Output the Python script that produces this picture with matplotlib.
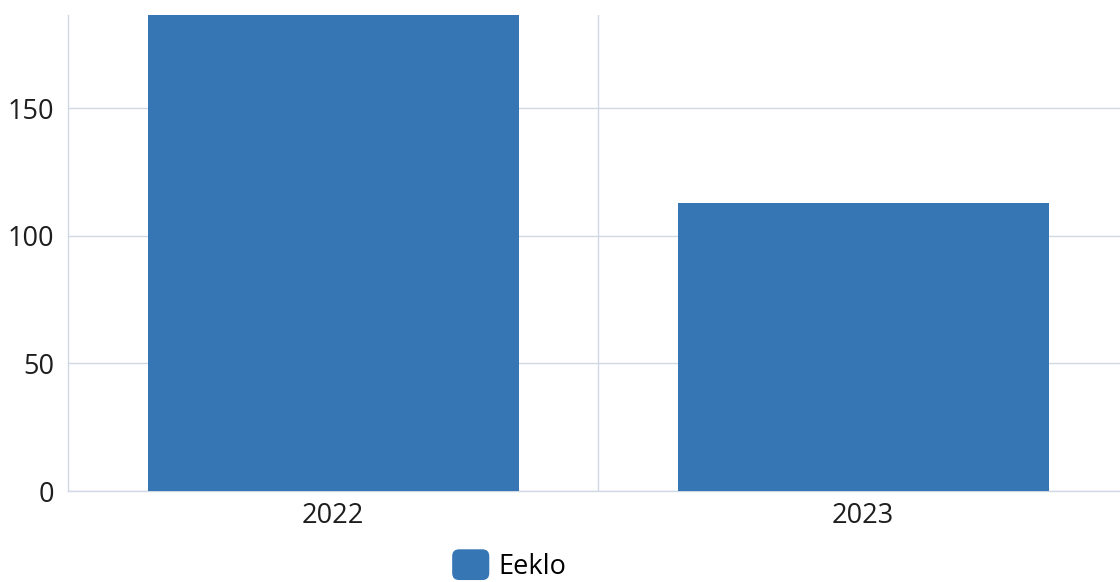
import matplotlib
matplotlib.use("Agg")
import matplotlib.pyplot as plt
from matplotlib.patches import FancyBboxPatch, Patch
from matplotlib.legend_handler import HandlerPatch

categories = ["2022", "2023"]
series_name = "Eeklo"
values = [190, 113]
yticks = [0, 50, 100, 150]

BAR = "#3776b4"
GRID = "#cfd8e3"

plt.rcParams['font.family'] = ['Open Sans', 'DejaVu Sans']

fig = plt.figure(figsize=(11.2, 5.82), dpi=100)
ax = fig.add_axes([68/1120, 1-491/582, 1060/1120, (491-15)/582])

x = list(range(len(categories)))
ax.bar(x, values, width=0.70, color=BAR, zorder=3, label=series_name)
ax.set_xlim(-0.5, len(categories) - 0.5)
ax.set_ylim(0, 186.5)
ax.set_yticks(yticks)
ax.set_xticks(x)
ax.set_xticklabels(categories)
ax.set_xticks([0.5], minor=True)
ax.grid(axis='y', which='major', color=GRID, linewidth=1, zorder=0)
ax.grid(axis='x', which='minor', color=GRID, linewidth=1, zorder=0)
ax.grid(axis='x', which='major', visible=False)
for s in ['top', 'right']:
    ax.spines[s].set_visible(False)
for s in ['left', 'bottom']:
    ax.spines[s].set_color(GRID)
    ax.spines[s].set_linewidth(1)
ax.tick_params(axis='both', which='both', length=0, labelsize=19.5, colors='#1e1e1e')
ax.tick_params(axis='x', pad=8)
ax.tick_params(axis='y', pad=10)


class RoundHandler(HandlerPatch):
    def create_artists(self, legend, orig_handle, xdescent, ydescent, width, height, fontsize, trans):
        p = FancyBboxPatch((-xdescent, -ydescent), width, height,
                           boxstyle="round,pad=0,rounding_size=5",
                           facecolor=BAR, edgecolor='none', transform=trans)
        return [p]

h = Patch(facecolor=BAR)
fig.legend([h], [series_name], loc='center', bbox_to_anchor=(509/1120, 1-565/582),
           frameon=False, fontsize=19.5, handlelength=1.37, handleheight=1.37,
           handletextpad=0.32, borderpad=0, borderaxespad=0,
           handler_map={Patch: RoundHandler()})

fig.savefig("out.png", dpi=100)
